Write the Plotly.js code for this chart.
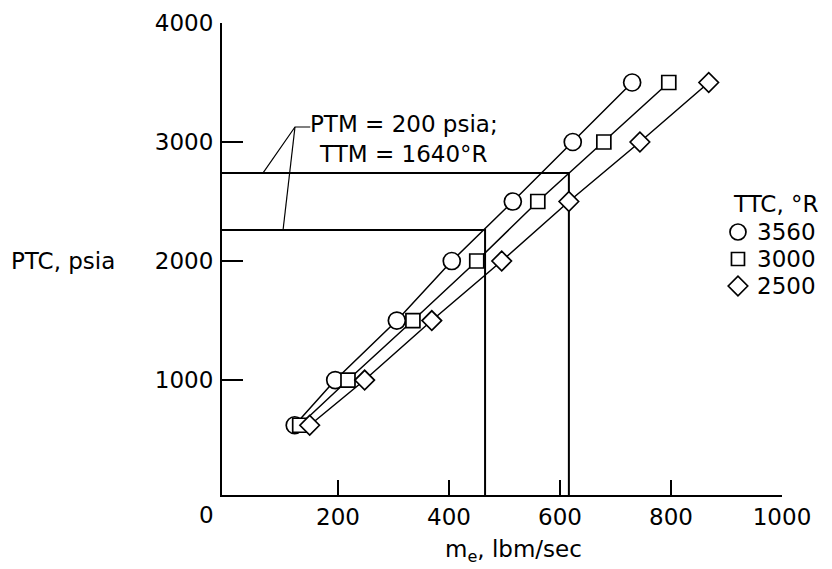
<!DOCTYPE html>
<html>
<head>
<meta charset="utf-8">
<script src="https://cdn.plot.ly/plotly-3.0.1.min.js"></script>
<style>html,body{margin:0;padding:0;background:#fff;}#chart{width:832px;height:569px;}</style>
</head>
<body>
<div id="chart"></div>
<script>
// ---- data ----
var ptcLevels = [620, 1000, 1500, 2000, 2500, 3000, 3500];
var me3560 = [122, 195, 306, 405, 515, 623, 730];
var me3000 = [131, 218, 335, 450, 560, 679, 796];
var me2500 = [149, 248, 369, 495, 616, 744, 868];
var seriesNames = ['3560', '3000', '2500'];
var legendTitle = 'TTC, °R';

// PTM = 200 psia; TTM = 1640°R operating lines
var xMin = -9, xMax = 1000, yMin = 34, yMax = 4000;
var guideUpperX = [xMin, 616, 616];
var guideUpperY = [2740, 2740, yMin];
var guideLowerX = [xMin, 465, 465];
var guideLowerY = [2261, 2261, yMin];
var leaderAX = [65, 122.5, 150];
var leaderAY = [2740, 3126, 3126];
var leaderBX = [101, 122.5];
var leaderBY = [2261, 3126];
var noteLines = ['PTM = 200 psia;', 'TTM = 1640°R'];

var xTicks = [200, 400, 600, 800, 1000];
var yTicks = [1000, 2000, 3000, 4000];

var FONT = 'DejaVu Sans, Liberation Sans, Arial, sans-serif';
var BLACK = '#000';

function guide(x, y, w) {
  return {x: x, y: y, mode: 'lines', type: 'scatter', showlegend: false, hoverinfo: 'skip',
          line: {color: BLACK, width: w}};
}
function series(x, sym, size) {
  return {x: x, y: ptcLevels, mode: 'lines+markers', type: 'scatter', showlegend: false,
          line: {color: BLACK, width: 1.5},
          marker: {symbol: sym, size: size, color: '#fff', line: {color: BLACK, width: 1.7}}};
}
function legendMark(sym, size, yy) {
  return {x: [0.9214], y: [yy], xaxis: 'x2', yaxis: 'y2', mode: 'markers', type: 'scatter',
          showlegend: false, hoverinfo: 'skip',
          marker: {symbol: sym, size: size, color: '#fff', line: {color: BLACK, width: 1.7}}};
}

var rows = [0.5572, 0.5, 0.4428];
var data = [
  guide(guideUpperX, guideUpperY, 2),
  guide(guideLowerX, guideLowerY, 2),
  guide(leaderAX, leaderAY, 1.2),
  guide(leaderBX, leaderBY, 1.2),
  series(me3560, 'circle', 17),
  series(me3000, 'square', 14),
  series(me2500, 'diamond', 15),
  legendMark('circle', 16, rows[0]),
  legendMark('square', 13, rows[1]),
  legendMark('diamond', 15, rows[2])
];

var f = {family: FONT, size: 23, color: BLACK};
var annotations = [
  {text: '0', xref: 'paper', yref: 'paper', x: -0.0268, y: -0.0424, xanchor: 'center', yanchor: 'middle', showarrow: false, font: f},
  {text: 'PTC, psia', xref: 'paper', yref: 'paper', x: -0.38, y: 0.4958, xanchor: 'left', yanchor: 'middle', showarrow: false, font: f},
  {text: 'm<sub>e</sub>, lbm/sec', xref: 'paper', yref: 'paper', x: 0.52, y: -0.118, xanchor: 'center', yanchor: 'middle', showarrow: false, font: f},
  {text: noteLines.join('<br>'), xref: 'paper', yref: 'paper', x: 0.3255, y: 0.7535, xanchor: 'center', yanchor: 'middle', align: 'center', showarrow: false, font: f},
  {text: legendTitle, xref: 'paper', yref: 'paper', x: 0.9090, y: 0.6165, xanchor: 'left', yanchor: 'middle', showarrow: false, font: f}
];
for (var i = 0; i < seriesNames.length; i++) {
  annotations.push({text: seriesNames[i], xref: 'paper', yref: 'paper', x: 0.9520, y: rows[i],
    xanchor: 'left', yanchor: 'middle', showarrow: false, font: f});
}

var layout = {
  width: 832, height: 569,
  margin: {l: 222, r: 50, t: 23, b: 74, pad: 0},
  paper_bgcolor: '#fff', plot_bgcolor: '#fff',
  font: f,
  showlegend: false,
  xaxis: {range: [xMin, xMax], tickvals: xTicks, ticktext: xTicks.map(String),
          ticks: 'inside', ticklen: 15, tickwidth: 2, tickcolor: BLACK,
          showline: true, linewidth: 2, linecolor: BLACK, showgrid: false, zeroline: false,
          tickfont: f, ticklabelstandoff: 0},
  yaxis: {range: [yMin, yMax], tickvals: yTicks, ticktext: yTicks.map(String),
          ticks: 'inside', ticklen: 21, tickwidth: 2, tickcolor: BLACK,
          showline: true, linewidth: 2, linecolor: BLACK, showgrid: false, zeroline: false,
          tickfont: f, ticklabelstandoff: 2},
  xaxis2: {overlaying: 'x', range: [0, 1], visible: false, fixedrange: true},
  yaxis2: {overlaying: 'y', range: [0, 1], visible: false, fixedrange: true},
  annotations: annotations
};

Plotly.newPlot('chart', data, layout, {staticPlot: true, displayModeBar: false});
</script>
</body>
</html>
